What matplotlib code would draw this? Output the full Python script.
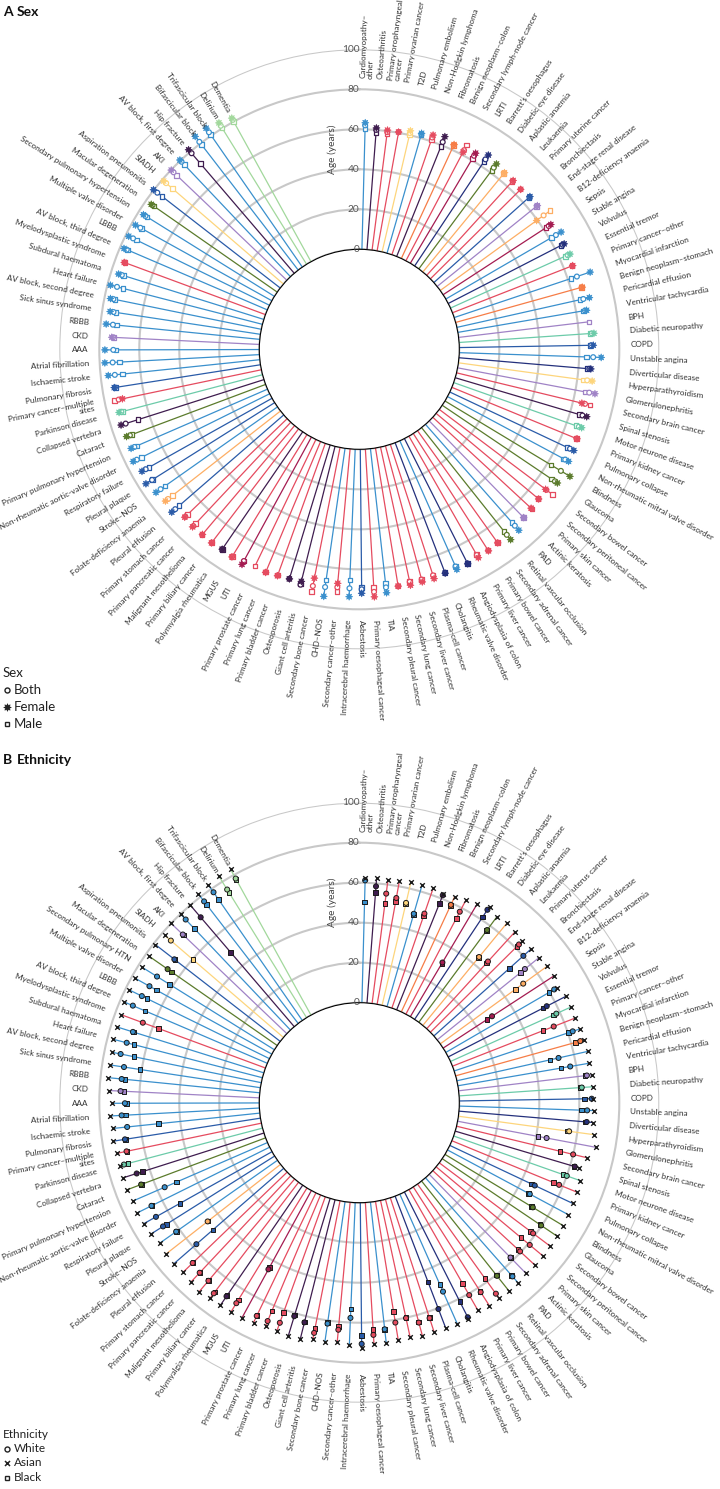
import matplotlib
matplotlib.use("Agg")
import matplotlib.pyplot as plt
import numpy as np
from matplotlib.lines import Line2D

plt.rcParams['font.family'] = ['Lato', 'DejaVu Sans']

nan = np.nan

# condition names, clockwise from the top
conditions = [
    "Cardiomyopathy–\nother", "Osteoarthritis", "Primary oropharyngeal\ncancer", "Primary ovarian cancer",
    "T2D", "Pulmonary embolism", "Non-Hodgkin lymphoma", "Fibromatosis", "Benign neoplasm–colon",
    "Secondary lymph-node cancer", "LRTI", "Barrett’s oesophagus", "Diabetic eye disease",
    "Aplastic anaemia", "Leukaemia", "Primary uterine cancer", "Bronchiectasis", "End-stage renal disease",
    "B12-deficiency anaemia", "Sepsis", "Stable angina", "Volvulus", "Essential tremor",
    "Primary cancer–other", "Myocardial infarction", "Benign neoplasm–stomach", "Pericardial effusion",
    "Ventricular tachycardia", "BPH", "Diabetic neuropathy", "COPD", "Unstable angina",
    "Diverticular disease", "Hyperparathyroidism", "Glomerulonephritis", "Secondary brain cancer",
    "Spinal stenosis", "Motor neurone disease", "Primary kidney cancer", "Pulmonary collapse",
    "Non-rheumatic mitral valve disorder", "Blindness", "Glaucoma", "Secondary bowel cancer",
    "Secondary peritoneal cancer", "Primary skin cancer", "Actinic keratosis", "PAD",
    "Retinal vascular occlusion", "Secondary adrenal cancer", "Primary bowel cancer", "Primary liver cancer",
    "Angiodysplasia of colon", "Rheumatic valve disorder", "Cholangitis", "Plasma-cell cancer",
    "Secondary liver cancer", "Secondary lung cancer", "Secondary pleural cancer", "TIA",
    "Primary oesophageal cancer", "Asbestosis", "Intracerebral haemorrhage", "Secondary cancer–other",
    "CHD–NOS", "Secondary bone cancer", "Giant cell arteritis", "Osteoporosis", "Primary bladder cancer",
    "Primary lung cancer", "Primary prostate cancer", "UTI", "MGUS", "Polymyalgia rheumatica",
    "Primary biliary cancer", "Malignant mesothelioma", "Primary pancreatic cancer", "Primary stomach cancer",
    "Pleural effusion", "Folate-deficiency anaemia", "Stroke–NOS", "Pleural plaque", "Respiratory failure",
    "Non-rheumatic aortic-valve disorder", "Primary pulmonary hypertension", "Cataract", "Collapsed vertebra",
    "Parkinson disease", "Primary cancer–multiple\nsites", "Pulmonary fibrosis", "Ischaemic stroke",
    "Atrial fibrillation", "AAA", "CKD", "RBBB", "Sick sinus syndrome", "AV block, second degree",
    "Heart failure", "Subdural haematoma", "Myelodysplastic syndrome", "AV block, third degree", "LBBB",
    "Multiple valve disorder", "Secondary pulmonary hypertension", "Macular degeneration",
    "Aspiration pneumonitis", "SIADH", "AKI", "AV block, first degree", "Hip fracture",
    "Bifascicular block", "Trifascicular block", "Delirium", "Dementia",
]
conditions_b = [c.replace("Primary uterine cancer", "Primary uterus cancer")
                 .replace("Secondary pulmonary hypertension", "Secondary pulmonary HTN") for c in conditions]

groups = [
    "cardio", "msk", "cancer", "cancer", "endo", "cardio", "cancer", "msk", "benign", "cancer",
    "infect", "digest", "eye", "blood", "cancer", "cancer", "resp", "renal", "blood", "infect",
    "cardio", "digest", "neuro", "cancer", "cardio", "benign", "cardio", "cardio", "renal", "neuro",
    "resp", "cardio", "digest", "endo", "renal", "cancer", "msk", "neuro", "cancer", "resp",
    "cardio", "eye", "eye", "cancer", "cancer", "cancer", "renal", "cardio", "eye", "cancer",
    "cancer", "cancer", "digest", "cardio", "digest", "cancer", "cancer", "cancer", "cancer", "cardio",
    "cancer", "resp", "cardio", "cancer", "cardio", "cancer", "msk", "msk", "cancer", "cancer",
    "cancer", "infect", "cancer", "msk", "cancer", "cancer", "cancer", "cancer", "resp", "blood",
    "cardio", "resp", "resp", "cardio", "cardio", "eye", "msk", "neuro", "cancer", "resp",
    "cardio", "cardio", "cardio", "renal", "cardio", "cardio", "cardio", "cardio", "cardio", "cancer",
    "cardio", "cardio", "cardio", "cardio", "eye", "resp", "endo", "renal", "cardio", "msk",
    "cardio", "cardio", "mental", "mental",
]

group_colours = {
    "cardio": "#3a90cd", "cancer": "#e54b5f", "resp": "#2a5ba8", "digest": "#24307c",
    "msk": "#3f1d4f", "endo": "#fdd57c", "renal": "#a083c6", "neuro": "#6ccba9",
    "eye": "#5b7b2c", "blood": "#fdae64", "infect": "#a41c51", "benign": "#f67d47",
    "mental": "#a2d89c",
}

# panel A: age (years) by sex
age_female = [
    63.3, 61, 60.5, 60.4, 62.2, 62.4, 63.3, 64.6, 62.8, 61.4,
    64, 66.6, 65.3, 64.3, 64.2, 63.6, 64.5, 64.4, 59.6, 64.3,
    66.7, 65.2, 65.6, 64.6, 71.7, 65.7, 67.9, 65.3, nan, 67.6,
    67, 71, 66.2, 67.5, 69.9, 64.5, 68.6, 67.9, 67.7, 68.6,
    68.7, 73, 69.5, 66.5, 66.8, 67, 67.6, 70.6, 71.6, 69,
    69.7, 70, 70.2, 70.4, 69.9, 70.6, 70.5, 70.7, 70, 72.5,
    74, 72, 73.8, 67.5, 74.8, 66.6, 69.6, 70, 70.4, 71,
    nan, 72.5, 71.8, 71.2, 71.8, 71.3, 71.8, 71.1, 74.2, 73.1,
    74.3, 76.1, 74.6, 76.2, 74.4, 74.3, 75, 74.2, 71, 74,
    76.2, 77.4, 77.2, 73.9, 77.2, 76, 77, 78.5, 76.1, 75.3,
    78, 78.4, 78, 77.2, 76.8, 80.2, 79, 79.9, 80.4, 81.3,
    84.4, 84.5, 83.2, 82,
]
age_both = [
    62, 60, 59.5, 60.4, 61, 62, 62, 61.7, 62.5, 62.5,
    62.5, 64, 63, 64, 63.9, 63.6, 64.2, 64.1, 63.9, 63,
    63.7, 64.3, 64.3, 64.4, 64.7, 65.5, 64.8, 64.5, nan, 66.5,
    66, 67, 65.4, 65, 67, 66.1, 66.4, 66.4, 67.5, 66.5,
    66.8, 67.7, 68, 67, 66.8, 67.3, 67.6, 67.6, 68.5, 68.9,
    69.5, 68.5, 70.1, 68.8, 69.8, 68.9, 69.3, 69, 70, 69.8,
    71.5, 70, 69.6, 69.5, 70.1, 70.6, 71.3, 70, 70.2, 70.9,
    nan, 70.6, 71.6, 71.2, 71.6, 71.5, 71.2, 70.7, 71.9, 71.4,
    71.5, 72.5, 72.5, 74.2, 72.6, 72.5, 72.6, 73, 72.9, 73.7,
    72.9, 73.5, 73, 73.3, 73.8, 74.3, 75.5, 75.1, 74.4, 75.1,
    76.5, 76, 75.2, 76, 76, 77.8, 77.4, 78.3, 79.2, 79,
    81, 82, 81.5, 81,
]
age_male = [
    60.5, 58.8, 58.5, nan, 60.1, 61.5, 60.7, 59.2, 62.2, 65.4,
    61, 62.6, 61.4, 63.6, 63.5, nan, 63.9, 63.8, 67.9, 61.5,
    61.3, 63.5, 63, 64.2, 61.6, 65.3, 63.1, 63.6, 65.7, 65.6,
    65.3, 63.7, 64.6, 63, 64.8, 68.7, 64.7, 64.9, 67.3, 64.8,
    66, 62, 66, 70.8, 66.5, 67.5, 67.6, 65.4, 66.4, 68.7,
    69.2, 68, 70, 68.5, 69.6, 68.7, 69.1, 68.8, 70, 67.8,
    69.2, 69, 65.4, 71.7, 66.5, 73.4, 71, nan, 70, 70.8,
    70.3, 70.5, 71.4, 71.2, 71.4, 71.7, 69.6, 69, 69.3, 68.5,
    68.8, 72.2, 70.5, 71.7, 71.2, 71.3, 66.1, 72.3, 75, 73.4,
    69, 70.2, 71.7, 72.8, 71.9, 73, 74.6, 72, 73.4, 74.9,
    76, 74.2, 74.4, 75.1, 75.2, 74.8, 73.3, 76.1, 77.2, 72.2,
    79.3, 80.6, 80.2, 80.2,
]

# panel B: age (years) by ethnicity
age_white = [
    61.2, 58.5, 55.4, 54, 52.6, 48.3, 50, 61.8, 59, 57.9,
    31.5, 65.8, 57.4, 44.3, 45.5, 62.4, 60.1, 56.4, 51.3, 29.2,
    62.7, 55.4, 58.1, 54.4, 62.5, 64.7, 52.1, 57, 64.6, 61.5,
    66.2, 64, 64.1, 55.9, 45.3, 60, 62.4, 60, 58, 47,
    46.7, 51.3, 59.7, 58.7, 61, 59.5, 58.2, 65.8, 60.6, 67.4,
    62.5, 60.8, 70.2, 53.3, 60.5, 63.3, 63.9, 60.2, 61.4, 64,
    66.3, 70.6, 57.7, 64, 61.6, 67.3, 63.2, 61.6, 67, 68.4,
    68.3, 44.9, 67.6, 67.4, 69.9, 66.7, 66.6, 65.6, 57.9, 46.3,
    62, 66, 66.6, 66, 56.1, 66.5, 66.8, 71.7, 68.9, 68.6,
    66.7, 69, 67.2, 69.5, 69.4, 69, 71.8, 70.1, 68.6, 65.4,
    73.2, 71.1, 70, 69.2, 66.8, 67, 74.3, 71.9, 76.2, 72,
    77.1, 78, 75.4, 78,
]
age_asian = [
    62.4, 62.7, 62.4, 62.4, 63.3, 63.4, 63.5, 62.5, 63.5, 64.4,
    65.5, 67.7, 65.5, 66.4, 65.5, 64.5, 65.3, 65.5, 66.3, 66.4,
    64.4, 66.2, 66.3, 65.7, 66.2, 66.4, 67.3, 66.3, 67.1, 67.3,
    67, 67.4, 67.4, 68.4, 70.3, 66.9, 64.5, 67, 67.5, 68,
    68.5, 69, 69, 69.5, 69.5, 69.5, 69.2, 70, 70.4, 70.3,
    70.5, 69.4, 71, 70.9, 70.8, 70.4, 70.8, 70, 70.2, 71,
    70.9, 72.6, 71.1, 70.1, 70.8, 70.6, 72, 72, 71.3, 71,
    72, 72.9, 72.5, 72.9, 73, 73.8, 72.9, 72, 72.7, 72.7,
    71.8, 73, 73.5, 74, 73.5, 74, 74.1, 73.7, 74, 74.5,
    73.7, 74.8, 73.8, 75.2, 76.1, 76, 76, 77, 77.1, 77.2,
    77.9, 78.1, 78.1, 78.1, 78.1, 79.1, 78.2, 80, 79.9, 79.9,
    81.9, 82.6, 83.6, 83.2,
]
age_black = [
    50.4, 55.5, 50.3, 52.3, 52, 48, 48.8, 57.2, 58.5, 54.2,
    31, 61.5, 57, 44, 44.6, 61, 50.8, 53.6, 46.4, 26.3,
    59.7, 53.4, 56.5, 48.6, 60.2, 62.1, 47.8, 52.4, 63.7, 61,
    62.5, 61.2, 63.2, 55, 41, 53.2, 62, 58, 55, 45.1,
    46, 50.5, 59, 57, 55.4, 58, 58, 65, 60, 58.2,
    62, 54.1, 61.4, 49.5, 46, 63, 63.5, 60, 55.9, 64,
    63.5, 66.3, 53.2, 62.3, 61, 65.2, 63, 61, 61.4, 63,
    68, 44, 65.8, 67, 69, 66.5, 66.3, 65.3, 47, 46,
    61.7, 64, 52.9, 65.7, 49.6, 66.3, 63.7, 69.5, 68.7, 68.3,
    50.9, 67, 66.3, 67.8, 67.7, 60.9, 65, 66.4, 68.3, 57.1,
    66.5, 68.3, 66.1, 61.8, 64.3, 66.7, 59.6, 71.5, 69.9, 48.9,
    75, 73.6, 73.6, 77.5,
]

START = 1.5      # angle of the first condition, degrees clockwise from the top
STEP = 2.917     # angular spacing between conditions
W, H = 720, 1489
TEXT = '#303030'


def draw_panel(fig, cy, names, series):
    ax = fig.add_axes([59.3 / W, 1 - (cy + 300) / H, 600 / W, 600 / H], projection='polar')
    ax.set_theta_zero_location('N')
    ax.set_theta_direction(-1)
    ax.set_rorigin(-50)
    ax.set_ylim(0, 100)
    ax.set_xticks([])
    ax.set_yticks([0, 20, 40, 60, 80, 100])
    ax.set_yticklabels([])
    ax.yaxis.grid(True, color='#c8c8c8', lw=1.5)
    ax.xaxis.grid(False)
    ax.set_axisbelow(True)
    for sp in ax.spines.values():
        sp.set_visible(False)
    ax.patch.set_alpha(0)

    deg = START + np.arange(len(names)) * STEP
    theta = np.deg2rad(deg)
    colours = [group_colours[g] for g in groups]

    top = np.nanmax(np.vstack([s[0] for s in series]), axis=0)
    for t, v, c in zip(theta, top, colours):
        ax.plot([t, t], [0, v], color=c, lw=0.9, solid_capstyle='butt', zorder=2)

    for vals, style in series:
        kw = style(colours)
        ax.scatter(theta, vals, zorder=3, **kw)

    for d, t, name in zip(deg, theta, names):
        if d <= 180:
            rot, ha = 90 - d, 'left'
        else:
            rot, ha = 270 - d, 'right'
        ax.text(t, 85.5, name, rotation=rot, rotation_mode='anchor', ha=ha, va='center',
                fontsize=5.9, color=TEXT, linespacing=0.95)

    for r in [0, 20, 40, 60, 80, 100]:
        ax.text(0, r, str(r), ha='right', va='center', fontsize=7.3, color='#555555')
    ax.annotate('Age (years)', xy=(0, 50), xytext=(-27, 0), textcoords='offset pixels',
                rotation=90, ha='center', va='center', fontsize=7.3, color='#444444')
    return ax


def legend(fig, y0, title, items, size, gap):
    fig.text(3 / W, 1 - y0 / H, title, fontsize=size, color='#222222', va='center')
    for k, (label, kw) in enumerate(items):
        y = 1 - (y0 + gap * (k + 1)) / H
        fig.add_artist(Line2D([7 / W], [y], transform=fig.transFigure, ls='none', **kw))
        fig.text(14 / W, y, label, fontsize=size, color='#222222', va='center')


def main():
    fig = plt.figure(figsize=(W / 100, H / 100), dpi=100)

    female_star = (8, 1, 0)
    sex_series = [
        (age_male, lambda c: dict(marker='s', s=11, facecolors='white', edgecolors=c, linewidths=0.9)),
        (age_both, lambda c: dict(marker='o', s=12, facecolors='white', edgecolors=c, linewidths=0.9)),
        (age_female, lambda c: dict(marker=female_star, s=26, facecolors=c, edgecolors=c, linewidths=0.5)),
    ]
    draw_panel(fig, 349.3, conditions, sex_series)

    eth_series = [
        (age_black, lambda c: dict(marker='s', s=11, facecolors=c, edgecolors='#1a1a1a', linewidths=0.7)),
        (age_white, lambda c: dict(marker='o', s=13, facecolors=c, edgecolors='#1a1a1a', linewidths=0.7)),
        (age_asian, lambda c: dict(marker='x', s=11, c='#1a1a1a', linewidths=1.0)),
    ]
    draw_panel(fig, 1102.7, conditions_b, eth_series)

    # panel titles
    fig.text(3 / W, 1 - 12 / H, 'A', fontsize=10, weight='bold', color='#111111', va='center')
    fig.text(17 / W, 1 - 12 / H, 'Sex', fontsize=10, weight='bold', color='#111111', va='center')
    fig.text(3 / W, 1 - 760 / H, 'B', fontsize=10, weight='bold', color='#111111', va='center')
    fig.text(17 / W, 1 - 760 / H, 'Ethnicity', fontsize=10, weight='bold', color='#111111', va='center')

    k = '#222222'
    legend(fig, 673, 'Sex', [
        ('Both', dict(marker='o', ms=3.6, mfc='white', mec=k, mew=1.0)),
        ('Female', dict(marker=female_star, ms=5.5, mfc=k, mec=k, mew=0.5)),
        ('Male', dict(marker='s', ms=3.4, mfc='white', mec=k, mew=1.0)),
    ], 9.5, 17)
    legend(fig, 1434, 'Ethnicity', [
        ('White', dict(marker='o', ms=3.6, mfc='white', mec=k, mew=1.0)),
        ('Asian', dict(marker='x', ms=3.6, mec=k, mew=1.1)),
        ('Black', dict(marker='s', ms=3.4, mfc='white', mec=k, mew=1.0)),
    ], 8.5, 14.5)

    fig.savefig('out.png', dpi=100)


if __name__ == '__main__':
    main()
